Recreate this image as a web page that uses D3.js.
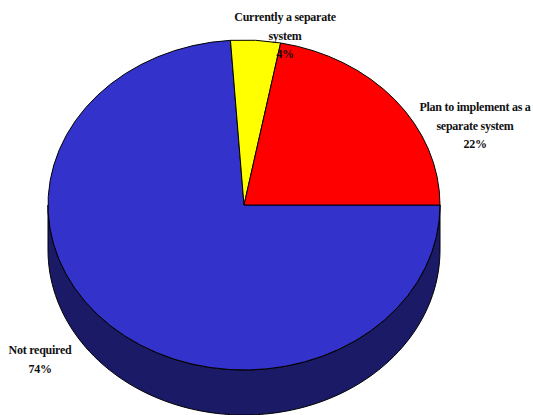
<!DOCTYPE html>
<html><head><meta charset="utf-8">
<script src="https://cdn.jsdelivr.net/npm/d3@7"></script>
<style>html,body{margin:0;padding:0;background:#fff;overflow:hidden}svg{display:block}
text{font-family:"Liberation Serif",serif;font-weight:bold;font-size:12px;fill:#111;text-anchor:middle;letter-spacing:-.25px}</style>
</head><body><svg id="c" width="533" height="415"></svg>
<script>
const categories=["Not required","Currently a separate system","Plan to implement as a separate system"];
const values=[73.9,4.1,22];
const colors=["#3333cc","#ffff00","#ff0000"];
const wallColor="#1a1a66";
const labelLines=[["Not required","74%"],["Currently a separate","system","4%"],["Plan to implement as a","separate system","22%"]];
const labelAnchors=[[40,354],[285,21],[475,111]];
const W=533,H=415,cx=244,cy=205,rx=196,ry=165,depth=45;
const svg=d3.select("#c");
const sx=d3.scaleLinear().domain([-1,1]).range([cx-rx,cx+rx]);
const sy=d3.scaleLinear().domain([-1,1]).range([cy-ry,cy+ry]);
const pie=d3.pie().sort(null).startAngle(Math.PI/2).endAngle(Math.PI*2.5).value(d=>d);
const arcs=pie(values);
// side wall: the front half of the ellipse, extruded downward
const thetas=d3.range(0,181,2).map(d=>d*Math.PI/180);
const wall=d3.area().x(t=>sx(Math.cos(t))).y0(t=>sy(Math.sin(t))).y1(t=>sy(Math.sin(t))+depth).curve(d3.curveLinear);
svg.append("path").attr("d",wall(thetas)).attr("fill",wallColor).attr("stroke","#000").attr("stroke-width",1);
// top slices
const arc=d3.arc().innerRadius(0).outerRadius(1);
svg.append("g").attr("transform",`translate(${cx},${cy}) scale(${rx},${ry})`)
 .selectAll("path").data(arcs).join("path")
 .attr("d",arc).attr("fill",(d,i)=>colors[i]).attr("stroke","#000")
 .attr("stroke-width",1).attr("vector-effect","non-scaling-stroke").attr("stroke-linejoin","round");
// labels
const lh=18.5;
svg.append("g").selectAll("text").data(labelLines).join("text")
 .attr("transform",(d,i)=>`translate(${labelAnchors[i][0]},${labelAnchors[i][1]})`)
 .selectAll("tspan").data(d=>d).join("tspan").attr("x",0).attr("y",(d,i)=>i*lh).text(d=>d);
</script></body></html>
